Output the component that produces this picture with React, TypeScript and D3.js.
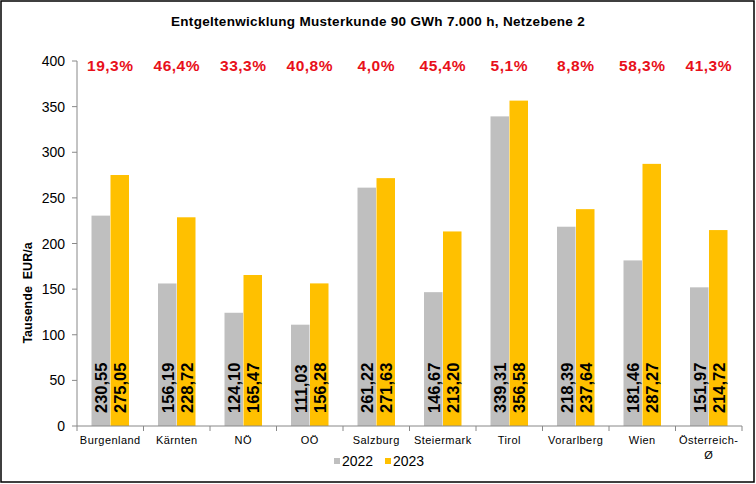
import React from "react";
import * as d3 from "d3";

const categories = ["Burgenland", "Kärnten", "NÖ", "OÖ", "Salzburg", "Steiermark", "Tirol", "Vorarlberg", "Wien", "Österreich-\nØ"];
const values2022 = [230.55, 156.19, 124.10, 111.03, 261.22, 146.67, 339.31, 218.39, 181.46, 151.97];
const values2023 = [275.05, 228.72, 165.47, 156.28, 271.63, 213.20, 356.58, 237.64, 287.27, 214.72];
const changeLabels = ["19,3%", "46,4%", "33,3%", "40,8%", "4,0%", "45,4%", "5,1%", "8,8%", "58,3%", "41,3%"];
const yTicks = [0, 50, 100, 150, 200, 250, 300, 350, 400];
const seriesNames = ["2022", "2023"];

const W = 756, H = 484;
const left = 77, right = 742, top = 61, bottom = 426;
const GRAY = "#BFBFBF", YELLOW = "#FFC000", RED = "#E8101A";
const FONT = "'Liberation Sans', Arial, sans-serif";

export default function App() {
  const x = d3.scaleBand<number>().domain(d3.range(categories.length)).range([left, right]).paddingInner(0).paddingOuter(0);
  const y = d3.scaleLinear().domain([0, 400]).range([bottom, top]);
  const bw = 18.5;
  const fmt = (v: number) => v.toFixed(2).replace(".", ",");
  const series = [values2022, values2023];
  const colors = [GRAY, YELLOW];

  return (
    <svg width={W} height={H} style={{ position: "absolute", left: 0, top: 0, background: "#fff" }} fontFamily={FONT}>
      <rect x={1} y={1} width={W - 3} height={H - 3} fill="#fff" stroke="#000" strokeWidth={1.5} />
      <text x={378} y={26} textAnchor="middle" fontSize={13.5} fontWeight="bold" letterSpacing={0.3}>Entgeltenwicklung Musterkunde 90 GWh 7.000 h, Netzebene 2</text>

      {/* bars */}
      {categories.map((c, i) => {
        const cx = x(i)! + x.bandwidth() / 2;
        return (
          <g key={i}>
            {series.map((s, k) => {
              const bx = cx - bw + k * (bw + 0.5) - 0.25;
              return <rect key={k} x={bx} y={y(s[i])} width={bw} height={y(0) - y(s[i])} fill={colors[k]} />;
            })}
            {series.map((s, k) => {
              const tx = cx - bw / 2 + k * (bw + 0.5) - 0.25;
              return (
                <text key={"t" + k} transform={`translate(${tx + 6.5},${bottom - 13}) rotate(-90)`} fontSize={16.5} fontWeight="bold" fill="#000">{fmt(s[i])}</text>
              );
            })}
            <text x={cx} y={71} textAnchor="middle" fontSize={15.5} fontWeight="bold" letterSpacing={0.5} fill={RED}>{changeLabels[i]}</text>
          </g>
        );
      })}

      {/* y axis */}
      <line x1={left} x2={left} y1={top} y2={bottom} stroke="#888" />
      {yTicks.map(t => (
        <g key={t}>
          <line x1={left - 5} x2={left} y1={y(t)} y2={y(t)} stroke="#888" />
          <text x={left - 12} y={y(t) + 5} textAnchor="end" fontSize={14} fill="#000">{t}</text>
        </g>
      ))}
      <text transform={`translate(32,293) rotate(-90)`} textAnchor="middle" fontSize={12.5} fontWeight="bold" style={{ whiteSpace: "pre" }}>{"Tausende  EUR/a"}</text>

      {/* x axis */}
      <line x1={left} x2={right} y1={bottom} y2={bottom} stroke="#888" />
      {d3.range(categories.length + 1).map(i => {
        const tx = left + i * x.bandwidth();
        return <line key={i} x1={tx} x2={tx} y1={bottom} y2={bottom + 5} stroke="#888" />;
      })}
      {categories.map((c, i) => {
        const cx = x(i)! + x.bandwidth() / 2;
        const lines = c.split("\n");
        return (
          <text key={i} x={cx} y={444} textAnchor="middle" fontSize={11} letterSpacing={0.45}>
            {lines.map((l, j) => <tspan key={j} x={cx} dy={j === 0 ? 0 : 15}>{l}</tspan>)}
          </text>
        );
      })}

      {/* legend */}
      {seriesNames.map((n, k) => {
        const lx = 334 + k * 51;
        return (
          <g key={n}>
            <rect x={lx} y={458} width={6} height={6} fill={colors[k]} />
            <text x={lx + 8} y={466} fontSize={14}>{n}</text>
          </g>
        );
      })}
    </svg>
  );
}
